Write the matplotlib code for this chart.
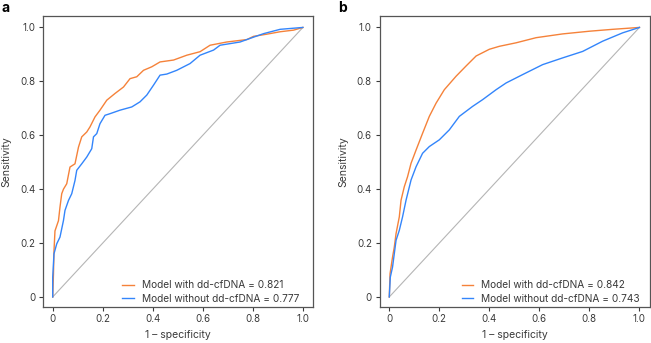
import matplotlib
matplotlib.use('Agg')
import matplotlib.pyplot as plt

plt.rcParams['font.family'] = ['Inter', 'DejaVu Sans']

# ROC curves (1 - specificity, sensitivity)
a_with_fpr = [0, 0.003, 0.005, 0.009, 0.023, 0.029, 0.036, 0.043, 0.056, 0.069, 0.089, 0.103,
              0.116, 0.136, 0.149, 0.169, 0.189, 0.216, 0.249, 0.283, 0.309, 0.336, 0.363,
              0.396, 0.429, 0.483, 0.536, 0.589, 0.629, 0.696, 0.776, 0.803, 0.856, 0.909, 0.963, 1]
a_with_tpr = [0, 0.085, 0.17, 0.245, 0.283, 0.333, 0.383, 0.40, 0.42, 0.482, 0.494, 0.556,
              0.594, 0.612, 0.631, 0.668, 0.693, 0.73, 0.755, 0.779, 0.81, 0.817, 0.841,
              0.854, 0.872, 0.879, 0.897, 0.91, 0.934, 0.946, 0.955, 0.967, 0.975, 0.984, 0.99, 1]

a_without_fpr = [0, 0, 0.005, 0.016, 0.029, 0.043, 0.049, 0.063, 0.076, 0.089, 0.096, 0.116,
                 0.136, 0.156, 0.163, 0.176, 0.189, 0.209, 0.229, 0.269, 0.316, 0.349, 0.376,
                 0.403, 0.429, 0.456, 0.496, 0.549, 0.589, 0.643, 0.669, 0.749, 0.803, 0.843, 0.909, 1]
a_without_tpr = [0, 0.073, 0.16, 0.197, 0.222, 0.284, 0.321, 0.358, 0.383, 0.432, 0.47, 0.494,
                 0.519, 0.55, 0.594, 0.606, 0.643, 0.674, 0.68, 0.693, 0.705, 0.724, 0.749,
                 0.786, 0.823, 0.827, 0.841, 0.866, 0.897, 0.916, 0.934, 0.946, 0.964, 0.977, 0.993, 1]

b_with_fpr = [0, 0.003, 0.013, 0.02, 0.027, 0.04, 0.047, 0.06, 0.073, 0.087, 0.107, 0.133,
              0.16, 0.187, 0.22, 0.267, 0.307, 0.347, 0.4, 0.44, 0.507, 0.587, 0.693, 0.8, 0.893, 1]
b_with_tpr = [0, 0.086, 0.148, 0.185, 0.235, 0.297, 0.359, 0.409, 0.446, 0.496, 0.545, 0.607,
              0.67, 0.719, 0.769, 0.819, 0.857, 0.894, 0.919, 0.93, 0.943, 0.962, 0.976, 0.986, 0.993, 1]

b_without_fpr = [0, 0.004, 0.013, 0.027, 0.04, 0.053, 0.067, 0.087, 0.107, 0.133, 0.16, 0.2,
                 0.24, 0.28, 0.333, 0.373, 0.427, 0.467, 0.533, 0.613, 0.693, 0.773, 0.853, 0.933, 1]
b_without_tpr = [0, 0.073, 0.111, 0.21, 0.247, 0.297, 0.359, 0.434, 0.483, 0.533, 0.558, 0.583,
                 0.62, 0.67, 0.707, 0.732, 0.769, 0.794, 0.825, 0.862, 0.887, 0.911, 0.949, 0.98, 1]

auc_a = ['0.821', '0.777']
auc_b = ['0.842', '0.743']

ticks = [0, 0.2, 0.4, 0.6, 0.8, 1.0]
tick_labels = ['0', '0.2', '0.4', '0.6', '0.8', '1.0']

orange = '#f5823a'
blue = '#3385fb'
dark = '#3a3a3a'

fig = plt.figure(figsize=(6.51, 3.43), dpi=100)
ax_a = fig.add_axes([0.066, 0.106, 0.415, 0.847])
ax_b = fig.add_axes([0.583, 0.106, 0.415, 0.847])


def roc_panel(ax, wf, wt, nf, nt, aucs, letter, leg_x):
    ax.plot([0, 1], [0, 1], color='#b5b5b5', lw=0.8)
    ax.plot(wf, wt, color=orange, lw=1.0, label='Model with dd-cfDNA = ' + aucs[0])
    ax.plot(nf, nt, color=blue, lw=1.0, label='Model without dd-cfDNA = ' + aucs[1])
    ax.set_xlim(-0.039, 1.041)
    ax.set_ylim(-0.036, 1.042)
    ax.set_xticks(ticks)
    ax.set_xticklabels(tick_labels)
    ax.set_yticks(ticks)
    ax.set_yticklabels(tick_labels)
    ax.tick_params(labelsize=7, colors=dark, length=3, width=0.8, pad=2.5)
    for s in ax.spines.values():
        s.set_color('#555555')
        s.set_linewidth(0.9)
    ax.set_xlabel('1 \u2013 specificity', fontsize=7.5, color=dark, labelpad=4)
    ax.set_ylabel('Sensitivity', fontsize=7.5, color=dark, labelpad=6)
    ax.legend(loc='lower right', bbox_to_anchor=(leg_x, -0.025), bbox_transform=ax.transData,
              frameon=False, fontsize=7.3, handlelength=1.1, handletextpad=0.8,
              labelspacing=0.35, borderaxespad=0, borderpad=0, labelcolor=dark)
    ax.text(-0.155, 1.005, letter, transform=ax.transAxes, fontsize=10,
            fontweight='bold', va='bottom', ha='left')


roc_panel(ax_a, a_with_fpr, a_with_tpr, a_without_fpr, a_without_tpr, auc_a, 'a', 0.985)
roc_panel(ax_b, b_with_fpr, b_with_tpr, b_without_fpr, b_without_tpr, auc_b, 'b', 1.0)

fig.savefig('out.png', dpi=100)
